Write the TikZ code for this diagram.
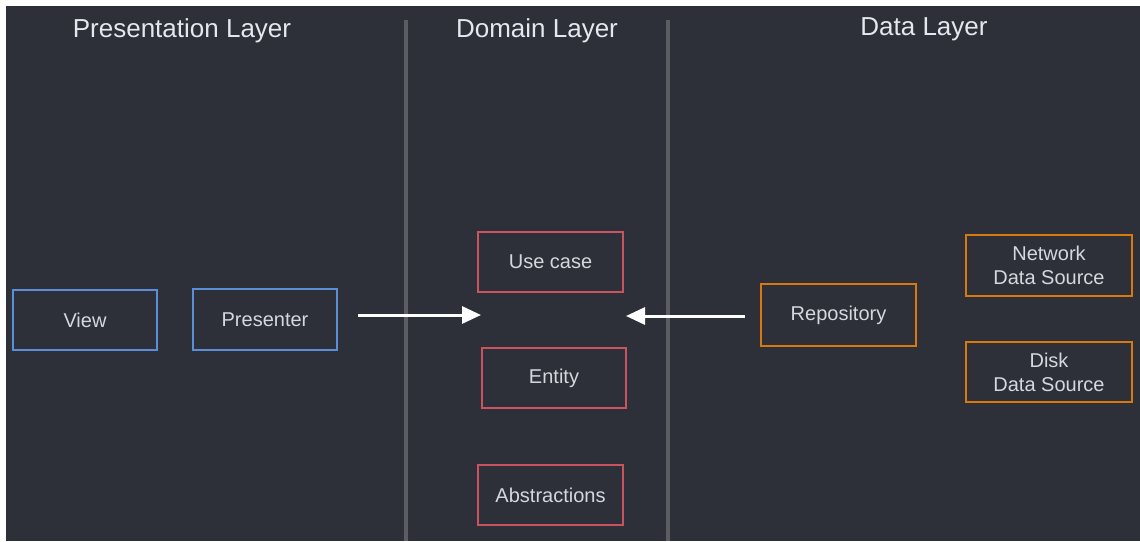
\documentclass[tikz,border=0pt]{standalone}
\usepackage{fontspec}
\setmainfont{Liberation Sans}
\usetikzlibrary{arrows.meta}
\definecolor{bg}{HTML}{2E3039}
\definecolor{divc}{HTML}{5C5D62}
\definecolor{blueb}{HTML}{5A8FD8}
\definecolor{redb}{HTML}{C95460}
\definecolor{orangeb}{HTML}{D9780E}
\definecolor{txt}{HTML}{D4D7DD}
\definecolor{ttl}{HTML}{E4E7EC}
\tikzset{
  box/.style={draw, line width=2.6pt, rectangle, inner sep=0pt, fill=bg,
    text=txt, font=\fontsize{20}{24}\selectfont, align=center},
  pbox/.style={box, draw=blueb},
  dbox/.style={box, draw=redb},
  obox/.style={box, draw=orangeb},
  title/.style={text=ttl, font=\fontsize{26}{30}\selectfont, inner sep=0pt},
  divider/.style={draw=divc, line width=3.5pt},
  flow/.style={draw=white, line width=3pt, -{Triangle[length=19pt,width=17pt]}}
}
\begin{document}
\begin{tikzpicture}[x=1pt,y=-1pt]
\useasboundingbox (0,0) rectangle (1140,541);
\fill[white] (0,0) rectangle (1140,541);
\fill[bg] (6,6) rectangle (1140,541);
% dividers
\coordinate (d1t) at (406,20);
\coordinate (d1b) at (406,541);
\coordinate (d2t) at (668,20);
\coordinate (d2b) at (668,541);
\draw[divider] (d1t) -- (d1b);
\draw[divider] (d2t) -- (d2b);
% titles
\node[title] (tp) at (182,31) {Presentation Layer};
\node[title] (td) at (537,31) {Domain Layer};
\node[title] (tda) at (924,29) {Data Layer};
% presentation
\node[pbox, minimum width=144pt, minimum height=60pt] (view) at (85,320) {View};
\node[pbox, minimum width=144pt, minimum height=61pt] (pres) at (265,319.5) {Presenter};
% domain
\node[dbox, minimum width=145pt, minimum height=60pt] (uc) at (550.5,262) {Use case};
\node[dbox, minimum width=144pt, minimum height=60pt] (ent) at (554,378) {Entity};
\node[dbox, minimum width=145pt, minimum height=60pt] (abs) at (550.5,495) {Abstractions};
% data
\node[obox, minimum width=155pt, minimum height=62pt] (repo) at (838.5,315) {Repository};
\node[obox, minimum width=166pt, minimum height=61pt] (net) at (1049,265.5) {Network\\Data Source};
\node[obox, minimum width=166pt, minimum height=60pt] (disk) at (1049,372) {Disk\\Data Source};
% arrows
\coordinate (a1s) at (358,315);
\coordinate (a1e) at (481,315);
\coordinate (a2s) at (745,316);
\coordinate (a2e) at (626,316);
\draw[flow] (a1s) -- (a1e);
\draw[flow] (a2s) -- (a2e);
\end{tikzpicture}
\end{document}
